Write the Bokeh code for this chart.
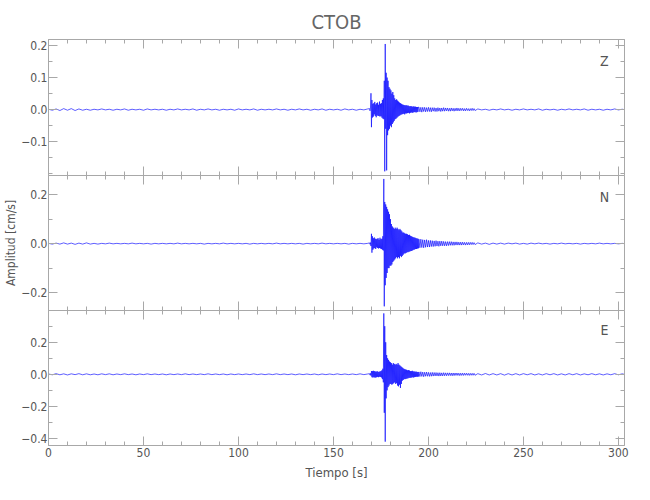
import numpy as np
from bokeh.plotting import figure
from bokeh.layouts import column
from bokeh.models import ColumnDataSource, FixedTicker, LinearAxis, Range1d, Label, Title
from bokeh.embed import file_html
from bokeh.resources import INLINE

station = "CTOB"
components = ["Z", "N", "E"]
x_label = "Tiempo [s]"
y_label = "Amplitud [cm/s]"

# sampling time base of the trace segments (s)
t_pre = np.arange(0.0, 170.0, 2.0)
t_main = 169.0 + 0.25 * np.arange(104)
t_coda = 195.0 + 0.5 * np.arange(60)
t_tail = 226.0 + 2.0 * np.arange(40)

# ---- Z component (cm/s) ----
z_pre = [0.001, -0.002, 0.002, -0.003, 0.003, -0.002, 0.003, -0.003, 0.002, -0.002,
         0.001, -0.002, 0.001, -0.001, 0.002, -0.001, 0.001, -0.002, 0.001, -0.001,
         0.002, -0.002, 0.001, -0.001, 0.001, -0.002, 0.002, -0.001, 0.001, -0.001,
         0.001, -0.002, 0.001, -0.001, 0.002, -0.001, 0.001, -0.001, 0.002, -0.002,
         0.001, -0.001, 0.002, -0.001, 0.001, -0.002, 0.001, -0.001, 0.001, -0.002,
         0.002, -0.001, 0.001, -0.001, 0.002, -0.002, 0.001, -0.001, 0.001, -0.001,
         0.002, -0.001, 0.001, -0.002, 0.001, -0.001, 0.002, -0.001, 0.001, -0.002,
         0.001, -0.001, 0.002, -0.002, 0.001, -0.001, 0.001, -0.002, 0.002, -0.001,
         0.001, -0.002, 0.001, -0.001, 0.002]
z_main = [0.003, -0.004, 0.005, 0.051, -0.055, 0.030, -0.025, 0.018, -0.022, 0.020,
          -0.015, 0.024, -0.020, 0.016, -0.024, 0.020, -0.018, 0.022, -0.020, 0.015,
          -0.020, 0.025, -0.022, 0.018, -0.020, 0.020, -0.025, 0.030, -0.028, 0.035,
          -0.030, 0.090, -0.193, 0.205, -0.060, 0.115, -0.190, 0.100, -0.080, 0.090,
          -0.065, 0.070, -0.060, 0.065, -0.050, 0.060, -0.055, 0.050, -0.045, 0.055,
          -0.040, 0.045, -0.035, 0.035, -0.030, 0.030, -0.028, 0.032, -0.025, 0.028,
          -0.022, 0.025, -0.020, 0.022, -0.018, 0.020, -0.016, 0.018, -0.015, 0.016,
          -0.014, 0.015, -0.013, 0.014, -0.015, 0.013, -0.012, 0.014, -0.012, 0.012,
          -0.011, 0.013, -0.010, 0.011, -0.012, 0.010, -0.010, 0.011, -0.009, 0.010,
          -0.010, 0.009, -0.009, 0.010, -0.008, 0.009, -0.008, 0.009, -0.009, 0.008,
          -0.008, 0.008, -0.007, 0.008]
z_coda = [0.008, -0.007, 0.007, -0.008, 0.007, -0.006, 0.007, -0.007, 0.006, -0.006,
          0.007, -0.006, 0.006, -0.007, 0.006, -0.005, 0.006, -0.006, 0.005, -0.006,
          0.006, -0.005, 0.005, -0.006, 0.005, -0.005, 0.006, -0.005, 0.005, -0.004,
          0.005, -0.005, 0.004, -0.005, 0.005, -0.004, 0.004, -0.005, 0.004, -0.004,
          0.005, -0.004, 0.004, -0.004, 0.004, -0.003, 0.004, -0.004, 0.003, -0.004,
          0.004, -0.003, 0.003, -0.004, 0.003, -0.003, 0.004, -0.003, 0.003, -0.003]
z_tail = [0.002, -0.001, 0.001, -0.002, 0.001, -0.001, 0.002, -0.001, 0.001, -0.002,
          0.001, -0.001, 0.002, -0.001, 0.001, -0.001, 0.002, -0.002, 0.001, -0.001,
          0.001, -0.002, 0.001, -0.001, 0.002, -0.001, 0.001, -0.001, 0.002, -0.002,
          0.001, -0.001, 0.001, -0.002, 0.001, -0.001, 0.002, -0.001, 0.001, -0.001]

# ---- N component (cm/s) ----
n_pre = [0.001, -0.002, 0.002, -0.002, 0.003, -0.002, 0.002, -0.003, 0.002, -0.002,
         0.003, -0.002, 0.001, -0.002, 0.001, -0.001, 0.002, -0.001, 0.001, -0.001,
         0.001, -0.001, 0.002, -0.001, 0.001, -0.001, 0.001, -0.002, 0.001, -0.001,
         0.001, -0.001, 0.001, -0.001, 0.002, -0.001, 0.001, -0.001, 0.001, -0.001,
         0.001, -0.002, 0.001, -0.001, 0.001, -0.001, 0.002, -0.001, 0.001, -0.001,
         0.001, -0.001, 0.001, -0.002, 0.001, -0.001, 0.001, -0.001, 0.001, -0.001,
         0.002, -0.001, 0.001, -0.001, 0.001, -0.001, 0.001, -0.002, 0.001, -0.001,
         0.001, -0.001, 0.002, -0.001, 0.001, -0.001, 0.001, -0.001, 0.001, -0.002,
         0.001, -0.001, 0.001, -0.001, 0.001]
n_main = [0.003, -0.003, 0.004, -0.010, 0.040, -0.037, 0.030, -0.025, 0.022, -0.020,
          0.025, -0.018, 0.020, -0.022, 0.018, -0.015, 0.020, -0.018, 0.022, -0.020,
          0.016, -0.018, 0.024, -0.020, 0.018, -0.022, 0.020, -0.025, 0.030, -0.028,
          0.264, -0.256, 0.170, -0.170, 0.160, -0.140, 0.150, -0.120, 0.140, -0.100,
          0.130, -0.100, 0.120, -0.090, 0.100, -0.090, 0.080, -0.085, 0.070, -0.075,
          0.065, -0.070, 0.060, -0.065, 0.065, -0.060, 0.060, -0.055, 0.065, -0.060,
          0.060, -0.055, 0.055, -0.060, 0.060, -0.050, 0.055, -0.055, 0.050, -0.050,
          0.045, -0.045, 0.045, -0.040, 0.042, -0.040, 0.040, -0.038, 0.040, -0.035,
          0.038, -0.035, 0.035, -0.033, 0.036, -0.032, 0.032, -0.030, 0.030, -0.030,
          0.028, -0.027, 0.026, -0.025, 0.025, -0.024, 0.024, -0.022, 0.022, -0.022,
          0.021, -0.020, 0.020, -0.019]
n_coda = [0.018, -0.017, 0.018, -0.016, 0.016, -0.017, 0.015, -0.015, 0.016, -0.014,
          0.013, -0.014, 0.013, -0.012, 0.012, -0.012, 0.011, -0.011, 0.012, -0.010,
          0.010, -0.011, 0.010, -0.009, 0.010, -0.009, 0.009, -0.009, 0.008, -0.009,
          0.008, -0.008, 0.008, -0.007, 0.008, -0.007, 0.007, -0.007, 0.007, -0.006,
          0.007, -0.006, 0.006, -0.006, 0.006, -0.006, 0.006, -0.005, 0.005, -0.006,
          0.005, -0.005, 0.005, -0.005, 0.005, -0.004, 0.005, -0.004, 0.004, -0.004]
n_tail = [0.003, -0.002, 0.002, -0.003, 0.002, -0.002, 0.002, -0.002, 0.002, -0.001,
          0.002, -0.002, 0.001, -0.002, 0.002, -0.001, 0.002, -0.001, 0.001, -0.002,
          0.001, -0.001, 0.002, -0.001, 0.001, -0.001, 0.001, -0.002, 0.001, -0.001,
          0.001, -0.001, 0.002, -0.001, 0.001, -0.001, 0.001, -0.001, 0.001, -0.001]

# ---- E component (cm/s) ----
e_pre = [0.002, -0.003, 0.004, -0.003, 0.003, -0.004, 0.003, -0.002, 0.004, -0.003,
         0.003, -0.003, 0.002, -0.003, 0.003, -0.002, 0.003, -0.003, 0.002, -0.002,
         0.003, -0.002, 0.002, -0.003, 0.002, -0.002, 0.003, -0.002, 0.002, -0.002,
         0.002, -0.003, 0.002, -0.002, 0.002, -0.002, 0.003, -0.002, 0.002, -0.002,
         0.002, -0.002, 0.003, -0.002, 0.002, -0.002, 0.002, -0.003, 0.002, -0.002,
         0.002, -0.002, 0.002, -0.002, 0.003, -0.002, 0.002, -0.002, 0.002, -0.002,
         0.003, -0.002, 0.002, -0.002, 0.002, -0.003, 0.002, -0.002, 0.002, -0.002,
         0.002, -0.003, 0.002, -0.002, 0.002, -0.002, 0.003, -0.002, 0.002, -0.002,
         0.002, -0.002, 0.003, -0.002, 0.002]
e_main = [0.004, -0.005, 0.006, -0.008, 0.020, -0.018, 0.020, -0.020, 0.022, -0.018,
          0.020, -0.020, 0.018, -0.020, 0.016, -0.018, 0.020, -0.016, 0.015, -0.018,
          0.016, -0.015, 0.018, -0.016, 0.020, -0.020, 0.025, -0.030, 0.035, -0.050,
          0.380, -0.240, 0.300, -0.420, 0.200, -0.150, 0.120, -0.100, 0.100, -0.080,
          0.090, -0.070, 0.080, -0.060, 0.075, -0.060, 0.070, -0.065, 0.060, -0.060,
          0.070, -0.055, 0.065, -0.050, 0.060, -0.060, 0.065, -0.055, 0.060, -0.070,
          0.070, -0.075, 0.060, -0.065, 0.055, -0.085, 0.050, -0.060, 0.045, -0.040,
          0.040, -0.035, 0.035, -0.030, 0.032, -0.030, 0.030, -0.028, 0.028, -0.026,
          0.025, -0.025, 0.026, -0.022, 0.024, -0.022, 0.020, -0.021, 0.020, -0.020,
          0.022, -0.018, 0.018, -0.020, 0.018, -0.017, 0.016, -0.016, 0.017, -0.015,
          0.015, -0.015, 0.014, -0.014]
e_coda = [0.015, -0.014, 0.016, -0.013, 0.014, -0.015, 0.013, -0.012, 0.014, -0.012,
          0.012, -0.013, 0.011, -0.012, 0.012, -0.011, 0.011, -0.010, 0.011, -0.010,
          0.010, -0.011, 0.010, -0.010, 0.009, -0.010, 0.010, -0.009, 0.009, -0.009,
          0.009, -0.008, 0.009, -0.008, 0.008, -0.009, 0.008, -0.008, 0.008, -0.007,
          0.008, -0.007, 0.007, -0.008, 0.007, -0.007, 0.007, -0.007, 0.007, -0.006,
          0.007, -0.006, 0.006, -0.007, 0.006, -0.006, 0.006, -0.006, 0.006, -0.006]
e_tail = [0.004, -0.004, 0.005, -0.004, 0.004, -0.004, 0.004, -0.005, 0.004, -0.004,
          0.004, -0.004, 0.004, -0.003, 0.004, -0.004, 0.003, -0.004, 0.004, -0.003,
          0.004, -0.004, 0.003, -0.004, 0.004, -0.003, 0.004, -0.004, 0.003, -0.003,
          0.004, -0.003, 0.003, -0.004, 0.003, -0.003, 0.004, -0.003, 0.003, -0.003]

# axis ticks
x_major = [0, 50, 100, 150, 200, 250, 300]
x_minor = list(range(0, 310, 10))
z_major = [-0.1, 0.0, 0.1, 0.2]
z_minor = [-0.2, -0.15, -0.1, -0.05, 0.0, 0.05, 0.1, 0.15, 0.2]
z_labels = ["\u22120.1", "0.0", "0.1", "0.2"]
n_major = [-0.2, 0.0, 0.2]
n_minor = [-0.2, -0.1, 0.0, 0.1, 0.2]
n_labels = ["\u22120.2", "0.0", "0.2"]
e_major = [-0.4, -0.2, 0.0, 0.2]
e_minor = [-0.4, -0.3, -0.2, -0.1, 0.0, 0.1, 0.2, 0.3]
e_labels = ["\u22120.4", "\u22120.2", "0.0", "0.2"]

time = np.concatenate([t_pre, t_main, t_coda, t_tail])
traces = [
    np.array(z_pre + z_main + z_coda + z_tail),
    np.array(n_pre + n_main + n_coda + n_tail),
    np.array(e_pre + e_main + e_coda + e_tail),
]
y_limits = [(-0.206, 0.219), (-0.273, 0.278), (-0.444, 0.398)]
y_ticks = [(z_major, z_minor, z_labels), (n_major, n_minor, n_labels), (e_major, e_minor, e_labels)]
comp_label_y = [0.153, 0.19, 0.275]

FONT = "DejaVu Sans Condensed"
TXT = "#555555"
AX = "#a8a8a8"

x_range = Range1d(0, 303.2)


def base_style(ax):
    ax.axis_line_color = AX
    ax.major_tick_line_color = AX
    ax.minor_tick_line_color = AX
    ax.major_tick_in = 9
    ax.major_tick_out = 0
    ax.minor_tick_in = 4
    ax.minor_tick_out = 0
    ax.major_label_text_font = FONT
    ax.major_label_text_color = TXT
    ax.major_label_text_font_size = "12px"
    ax.major_label_standoff = 2


def tick_only(p, side, major, minor):
    # two label-free axes: short ticks for minor positions, long ticks for major ones
    for ticks, length in ((minor, 4), (major, 9)):
        ax = LinearAxis(ticker=FixedTicker(ticks=[], minor_ticks=ticks))
        base_style(ax)
        ax.minor_tick_in = length
        ax.major_label_standoff = 0
        p.add_layout(ax, side)


figs = []
for i in range(3):
    top = 39 if i == 0 else 0
    bottom = 50 if i == 2 else 0
    fh = 136 if i == 0 else 135
    p = figure(frame_width=576, frame_height=fh, x_range=x_range,
               y_range=Range1d(*y_limits[i]), output_backend="svg",
               toolbar_location=None, x_axis_location=None, y_axis_location=None,
               min_border_left=48, min_border_right=10, min_border_top=top,
               min_border_bottom=bottom, outline_line_color=None,
               background_fill_color="white", border_fill_color="white")
    p.grid.visible = False
    major, minor, labels = y_ticks[i]

    left = LinearAxis(ticker=FixedTicker(ticks=major, minor_ticks=minor),
                      major_label_overrides=dict(zip(major, labels)))
    base_style(left)
    left.major_label_standoff = 1
    if i == 1:
        left.axis_label = y_label
        left.axis_label_text_font = FONT
        left.axis_label_text_font_size = "12px"
        left.axis_label_text_font_style = "normal"
        left.axis_label_text_color = TXT
        left.axis_label_standoff = 0
    p.add_layout(left, "left")
    tick_only(p, "right", major, minor)
    tick_only(p, "above", x_major, x_minor)
    if i == 2:
        below = LinearAxis(ticker=FixedTicker(ticks=x_major, minor_ticks=x_minor))
        base_style(below)
        below.axis_label = x_label
        below.axis_label_text_font = FONT
        below.axis_label_text_font_size = "13px"
        below.axis_label_text_font_style = "normal"
        below.axis_label_text_color = TXT
        below.axis_label_standoff = 5
        p.add_layout(below, "below")
    else:
        tick_only(p, "below", x_major, x_minor)

    src = ColumnDataSource(dict(t=time, a=traces[i]))
    p.line(x="t", y="a", source=src, line_color="#0000ff", line_width=0.8, line_alpha=0.8)

    p.add_layout(Label(x=292.6, y=comp_label_y[i], text=components[i],
                       text_font=FONT, text_font_size="14px", text_color=TXT,
                       text_align="center", text_baseline="middle"))
    if i == 0:
        p.title = Title(text=station, align="center", text_font=FONT,
                        text_font_size="20px", text_color="#666666",
                        text_font_style="normal", standoff=11)
    figs.append(p)

layout = column(*figs, spacing=0)
open("out.html", "w").write(file_html(layout, INLINE))
